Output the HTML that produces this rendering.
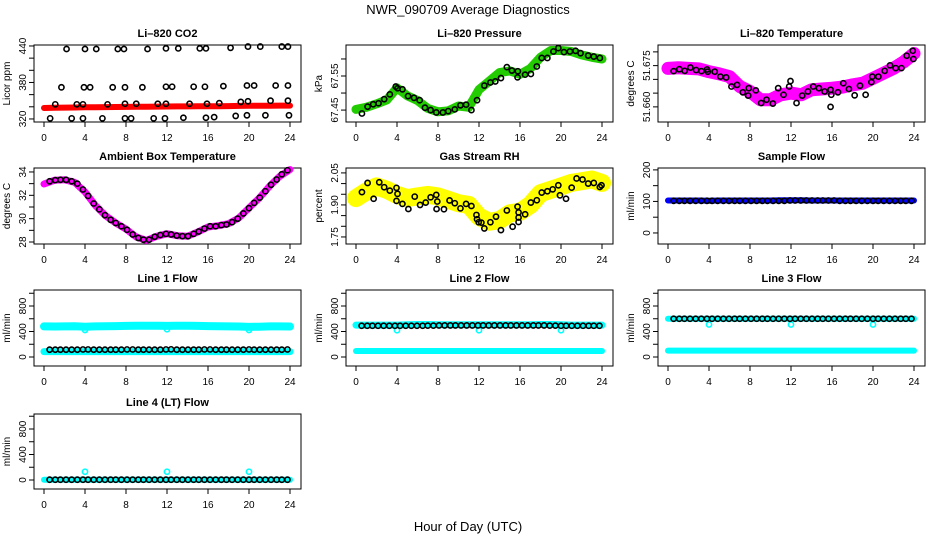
<!DOCTYPE html>
<html><head><meta charset="utf-8"><style>
html,body{margin:0;padding:0;background:#fff;}
svg{display:block;font-family:"Liberation Sans",sans-serif;}
</style></head><body>
<svg id="chart" width="936" height="540" viewBox="0 0 936 540" xmlns="http://www.w3.org/2000/svg">
<text x="468" y="14" font-size="13" text-anchor="middle">NWR_090709  Average Diagnostics</text>
<text x="468" y="531" font-size="13" text-anchor="middle">Hour of Day (UTC)</text>
</svg>
<script>
const NS='http://www.w3.org/2000/svg';
const svg=document.getElementById('chart');
const xTicks=[0,4,8,12,16,20,24];
const hours24=[0,1,2,3,4,5,6,7,8,9,10,11,12,13,14,15,16,17,18,19,20,21,22,23,24];
const blackHours=[0.55,1.1,1.6,2.15,2.7,3.25,3.8,4.3,4.85,5.4,5.95,6.5,7.0,7.55,8.1,8.65,9.2,9.7,10.25,10.8,11.35,11.9,12.4,12.95,13.5,14.05,14.6,15.1,15.65,16.2,16.75,17.3,17.8,18.35,18.9,19.45,20.0,20.5,21.05,21.6,22.15,22.7,23.2,23.75];
const dipHours=[4,12,20];

// CO2
const co2Band=[338,338.3,338.6,338.9,339.1,339.3,339.5,339.7,339.9,340,340.2,340.3,340.5,340.6,340.7,340.8,340.9,341,341.2,341.4,341.6,341.7,341.8,341.9,342];
const co2Hours=[2.2,4.0,5.1,7.2,7.8,10.1,11.9,13.1,15.2,15.8,18.2,19.9,21.1,23.2,23.8, 1.7,3.9,4.5,6.7,7.9,9.6,11.9,12.5,14.6,15.7,17.5,19.8,20.5,22.6,23.8, 1.1,3.2,3.8,6.2,7.9,9.0,11.1,11.9,14.2,15.9,17.1,19.2,19.9,22.1,23.8, 0.6,2.7,3.8,5.7,7.9,8.5,10.7,11.8,13.6,15.8,16.6,18.7,19.8,21.6,23.9];
const co2Vals=[435,435,435,435,435,435,436,436,436,436,437,439,439,439,439, 372,372,372,372,372,372,373,373,373,373,374,375,375,375,375, 344,344,344,344,345,345,345,345,345,345,346,348,349,350,350, 321,321,321,321,321,321,321,321,322,322,323,325,326,326,326];
// Pressure
const presBand=[67.452,67.458,67.468,67.480,67.515,67.492,67.478,67.455,67.445,67.448,67.462,67.458,67.510,67.535,67.560,67.565,67.555,67.572,67.605,67.625,67.625,67.622,67.612,67.605,67.600];
const presHours=[0.58,1.13,1.68,2.20,2.75,3.30,3.88,4.05,4.53,5.08,5.66,6.21,6.73,7.28,7.83,8.48,9.00,9.64,10.19,10.74,11.26,11.81,12.52,13.11,13.59,14.14,14.72,15.21,15.76,15.79,16.50,17.06,17.64,18.12,18.67,19.26,19.74,20.29,20.87,21.42,21.91,22.65,23.20,23.79];
const presVals=[67.440,67.460,67.467,67.470,67.482,67.496,67.519,67.514,67.511,67.491,67.486,67.479,67.457,67.450,67.443,67.443,67.447,67.452,67.464,67.466,67.450,67.479,67.522,67.531,67.534,67.544,67.576,67.566,67.546,67.564,67.554,67.556,67.578,67.603,67.603,67.622,67.632,67.620,67.622,67.624,67.617,67.610,67.607,67.603];
// Li-820 temperature
const tempBand=[51.674,51.6742,51.674,51.6738,51.6728,51.672,51.671,51.6674,51.6656,51.6626,51.6626,51.6644,51.665,51.6644,51.6662,51.6665,51.6668,51.6672,51.668,51.6686,51.6704,51.6722,51.674,51.6764,51.6794];
const tempHours=[0.55,1.11,1.63,2.18,2.74,3.26,3.81,3.88,4.56,5.11,5.67,6.19,6.74,7.30,7.82,7.88,8.57,9.09,9.61,10.23,10.75,11.27,11.82,11.95,12.54,13.09,13.65,14.17,14.72,15.28,15.86,15.93,15.86,16.58,17.10,17.65,18.21,18.73,19.28,19.84,19.93,20.52,21.14,21.66,22.21,22.77,23.29,23.88,23.94];
const tempVals=[51.6730,51.6737,51.6731,51.6743,51.6734,51.6730,51.6736,51.6728,51.6728,51.6710,51.6707,51.6674,51.6680,51.6653,51.6641,51.6668,51.6660,51.6614,51.6626,51.6612,51.6668,51.6644,51.6674,51.6694,51.6614,51.6641,51.6656,51.6674,51.6668,51.6656,51.6662,51.6644,51.6600,51.6653,51.6686,51.6665,51.6642,51.6677,51.6644,51.6690,51.6710,51.6710,51.6731,51.6751,51.6741,51.6741,51.6786,51.6804,51.6774];
// Ambient
const ambBand=[32.97,33.29,33.34,33.11,32.29,31.14,30.26,29.63,29.11,28.43,28.14,28.49,28.71,28.54,28.49,28.86,29.29,29.40,29.57,30.06,30.91,31.77,32.77,33.63,34.2];
const ambVals=[33.2,33.3,33.33,33.33,33.2,33.0,32.5,31.95,31.3,30.8,30.3,29.9,29.63,29.35,29.05,28.65,28.35,28.2,28.2,28.45,28.6,28.7,28.65,28.55,28.5,28.5,28.7,28.9,29.15,29.35,29.35,29.45,29.5,29.7,30.0,30.45,30.9,31.35,31.8,32.35,32.9,33.35,33.8,34.15];
// RH
const rhBand=[1.932,1.963,1.987,1.971,1.947,1.932,1.940,1.947,1.940,1.924,1.908,1.900,1.845,1.821,1.829,1.861,1.868,1.900,1.955,1.971,1.987,2.003,2.011,2.019,2.003];
const rhHours=[0.58,1.72,1.13,2.27,2.75,3.30,3.95,3.95,4.05,4.53,5.11,5.73,6.25,6.80,7.28,7.83,7.93,7.86,8.58,9.13,9.64,10.19,10.74,11.26,11.75,11.81,11.97,12.23,12.52,13.11,13.66,14.14,14.72,15.28,15.76,15.86,15.86,15.86,16.50,17.06,17.64,18.12,18.67,19.19,19.74,19.90,20.49,21.04,21.52,22.10,22.65,23.20,23.79,23.95];
const rhVals=[1.960,1.929,2.003,2.006,1.983,1.967,1.980,1.919,1.952,1.905,1.881,1.939,1.900,1.911,1.936,1.947,1.916,1.881,1.880,1.921,1.908,1.884,1.905,1.895,1.853,1.833,1.819,1.817,1.790,1.819,1.845,1.782,1.874,1.798,1.892,1.865,1.841,1.820,1.856,1.911,1.922,1.958,1.964,1.973,1.992,1.945,1.929,1.981,2.024,2.019,2.000,2.003,1.984,1.992];
// Sample flow
const sampleBand=[103,103,103,103,102,103,103,103,103,103,103,104,104,104,103,103,103,103,103,103,103,103,103,103,103];
const sampleVals=[102,102,102,102,102,102,102,102,102,102,102,102,102,102,102,102,102,102,102,102,102,103,103,103,103,103,103,103,103,103,102,102,102,102,102,102,102,102,102,102,102,102,102,102];
// Line 1
const line1High=[480,478,480,482,476,480,482,485,488,490,490,490,488,490,490,488,485,482,480,478,472,476,480,480,478];
const line1Low=[85,85,85,85,85,85,85,85,85,85,85,85,85,85,85,85,85,85,85,85,85,85,85,85,85];
const line1Dips=[425,435,425];
const line1Vals=[115,115,115,115,115,115,118,118,115,115,115,115,115,115,118,118,115,115,115,115,115,118,120,115,115,115,115,115,118,118,115,115,115,115,115,115,118,115,115,115,115,115,115,118];
// Line 2
const line2High=[500,500,500,500,500,505,510,510,505,505,505,505,505,505,505,505,505,505,510,510,505,500,500,500,500];
const line2Low=[95,95,95,95,95,95,95,95,95,95,95,95,95,95,95,95,95,95,95,95,95,95,95,95,95];
const line2Dips=[420,420,420];
const line2Vals=[490,490,490,490,490,490,490,490,490,490,490,490,492,492,495,495,495,495,495,495,495,495,495,495,495,495,495,495,495,495,495,495,495,495,492,492,490,490,490,490,490,490,490,490];
// Line 3
const line3High=[600,600,600,600,600,600,600,600,600,600,600,600,600,600,600,600,600,600,600,600,600,600,600,600,600];
const line3Low=[100,100,100,100,100,100,100,100,100,100,100,100,100,100,100,100,100,100,100,100,100,100,100,100,100];
const line3Dips=[510,510,510];
const line3Vals=[600,600,600,600,600,600,600,600,600,600,600,600,600,600,600,600,600,600,600,600,600,600,600,600,600,600,600,600,600,600,600,600,600,600,600,600,600,600,600,600,600,600,600,600];
// Line 4
const line4Low=[5,5,5,5,5,5,5,5,5,5,5,5,5,5,5,5,5,5,5,5,5,5,5,5,5];
const line4Spikes=[130,130,130];
const line4Vals=[5,5,5,5,5,5,5,5,5,5,5,5,5,5,5,5,5,5,5,5,5,5,5,5,5,5,5,5,5,5,5,5,5,5,5,5,5,5,5,5,5,5,5,5];

const colLeft=[34,346,658], boxW=267;
const rowTop=[45,168,290,414], rowBot=[122,244,366,489];

function el(tag,attrs,parent){const e=document.createElementNS(NS,tag);for(const k in attrs)e.setAttribute(k,attrs[k]);(parent||svg).appendChild(e);return e;}

function makePanel(p){
  const L=colLeft[p.col], R=L+boxW, T=rowTop[p.row], B=rowBot[p.row];
  const g=el('g',{});
  
  
  const sx=h=>L+10+h*(246/24);
  const sy=v=>T+(p.yTop-v)/(p.yTop-p.yBot)*(B-T);
  const box=el('rect',{x:L,y:T,width:boxW,height:B-T,fill:'none',stroke:'#000','stroke-width':1},g);
  
  
  const t=el('text',{x:(L+R)/2,y:T-8,'font-size':11,'font-weight':'bold','text-anchor':'middle'},g);
  t.textContent=p.title;
  
  
  const yl=el('text',{x:0,y:0,'font-size':10,'text-anchor':'middle',transform:`translate(${L-24},${(T+B)/2}) rotate(-90)`},g);
  yl.textContent=p.ylab;
  
  
  xTicks.forEach(h=>{
    const tk=el('line',{x1:sx(h),x2:sx(h),y1:B,y2:B+5,stroke:'#000'},g);
    
    
    const tl=el('text',{x:sx(h),y:B+19,'font-size':10,'text-anchor':'middle'},g);
    tl.textContent=h;
    
    
  });
  p.yTicks.forEach(v=>{
    const tk=el('line',{x1:L-5,x2:L,y1:sy(v),y2:sy(v),stroke:'#000'},g);
    
    
  });
  p.yLabels.forEach(v=>{
    const tl=el('text',{x:0,y:0,'font-size':10,'text-anchor':'middle',transform:`translate(${L-8},${sy(v)}) rotate(-90)`},g);
    tl.textContent=v;
    
    
  });
  (p.bands||[]).forEach(b=>{
    const pts=b.x.map((h,i)=>sx(h).toFixed(1)+','+sy(b.y[i]).toFixed(1)).join(' ');
    const pl=el('polyline',{points:pts,fill:'none',stroke:b.color,'stroke-width':b.w,'stroke-linejoin':'round','stroke-linecap':'round'},g);
    
    
  });
  (p.points||[]).forEach(s=>{
    s.x.forEach((h,i)=>{
      const c=el('circle',{cx:sx(h),cy:sy(s.y[i]),r:2.6,fill:'none',stroke:s.color,'stroke-width':1.6},g);
      
      
    });
  });
}

const flowTicks=[0,200,400,600,800,1000], flowLabels=[0,400,800];
const panels=[
 {name:'co2',col:0,row:0,title:'Li\u2013820 CO2',ylab:'Licor ppm',yTop:441.6,yBot:315,yTicks:[320,340,360,380,400,420,440],yLabels:[320,380,440],
  bands:[{x:hours24,y:co2Band,color:'#ff0000',w:6,label:'red'}],points:[{x:co2Hours,y:co2Vals,color:'#000',label:'black'}]},
 {name:'pressure',col:1,row:0,title:'Li\u2013820 Pressure',ylab:'kPa',yTop:67.641,yBot:67.415,yTicks:[67.45,67.50,67.55,67.60],yLabels:['67.45','67.55'],
  bands:[{x:hours24,y:presBand,color:'#22cc00',w:9,label:'green'}],points:[{x:presHours,y:presVals,color:'#000',label:'black'}]},
 {name:'temperature',col:2,row:0,title:'Li\u2013820 Temperature',ylab:'degrees C',yTop:51.6825,yBot:51.6545,yTicks:[51.660,51.665,51.670,51.675,51.680],yLabels:['51.660','51.675'],
  bands:[{x:hours24,y:tempBand,color:'#ff00ff',w:13,label:'magenta'}],points:[{x:tempHours,y:tempVals,color:'#000',label:'black'}]},
 {name:'ambient',col:0,row:1,title:'Ambient Box Temperature',ylab:'degrees C',yTop:34.34,yBot:27.83,yTicks:[28,29,30,31,32,33,34],yLabels:[28,30,32,34],
  bands:[{x:hours24,y:ambBand,color:'#ff00ff',w:7,label:'magenta'}],points:[{x:blackHours,y:ambVals,color:'#000',label:'black'}]},
 {name:'rh',col:1,row:1,title:'Gas Stream RH',ylab:'percent',yTop:2.073,yBot:1.717,yTicks:[1.75,1.80,1.85,1.90,1.95,2.00,2.05],yLabels:['1.75','1.90','2.05'],
  bands:[{x:hours24,y:rhBand,color:'#ffff00',w:18,label:'yellow'}],points:[{x:rhHours,y:rhVals,color:'#000',label:'black'}]},
 {name:'sample-flow',col:2,row:1,title:'Sample Flow',ylab:'ml/min',yTop:206,yBot:-35,yTicks:[0,50,100,150,200],yLabels:[0,100,200],
  bands:[{x:hours24,y:sampleBand,color:'#0000ff',w:6,label:'blue'}],points:[{x:blackHours,y:sampleVals,color:'#000',label:'black'}]},
 {name:'line1-flow',col:0,row:2,title:'Line 1 Flow',ylab:'ml/min',yTop:1051,yBot:-141,yTicks:flowTicks,yLabels:flowLabels,
  bands:[{x:hours24,y:line1High,color:'#00ffff',w:8,label:'cyan-high'},{x:hours24,y:line1Low,color:'#00ffff',w:7,label:'cyan-low'}],
  points:[{x:dipHours,y:line1Dips,color:'#00ffff',label:'cyan-dip'},{x:blackHours,y:line1Vals,color:'#000',label:'black'}]},
 {name:'line2-flow',col:1,row:2,title:'Line 2 Flow',ylab:'ml/min',yTop:1051,yBot:-141,yTicks:flowTicks,yLabels:flowLabels,
  bands:[{x:hours24,y:line2High,color:'#00ffff',w:7,label:'cyan-high'},{x:hours24,y:line2Low,color:'#00ffff',w:6,label:'cyan-low'}],
  points:[{x:dipHours,y:line2Dips,color:'#00ffff',label:'cyan-dip'},{x:blackHours,y:line2Vals,color:'#000',label:'black'}]},
 {name:'line3-flow',col:2,row:2,title:'Line 3 Flow',ylab:'ml/min',yTop:1051,yBot:-141,yTicks:flowTicks,yLabels:flowLabels,
  bands:[{x:hours24,y:line3High,color:'#00ffff',w:6,label:'cyan-high'},{x:hours24,y:line3Low,color:'#00ffff',w:6,label:'cyan-low'}],
  points:[{x:dipHours,y:line3Dips,color:'#00ffff',label:'cyan-dip'},{x:blackHours,y:line3Vals,color:'#000',label:'black'}]},
 {name:'line4-flow',col:0,row:3,title:'Line 4 (LT) Flow',ylab:'ml/min',yTop:1035,yBot:-141,yTicks:flowTicks,yLabels:flowLabels,
  bands:[{x:hours24,y:line4Low,color:'#00ffff',w:6,label:'cyan-low'}],
  points:[{x:dipHours,y:line4Spikes,color:'#00ffff',label:'cyan-spike'},{x:blackHours,y:line4Vals,color:'#000',label:'black'}]}
];
panels.forEach(makePanel);
</script>
</body></html>
